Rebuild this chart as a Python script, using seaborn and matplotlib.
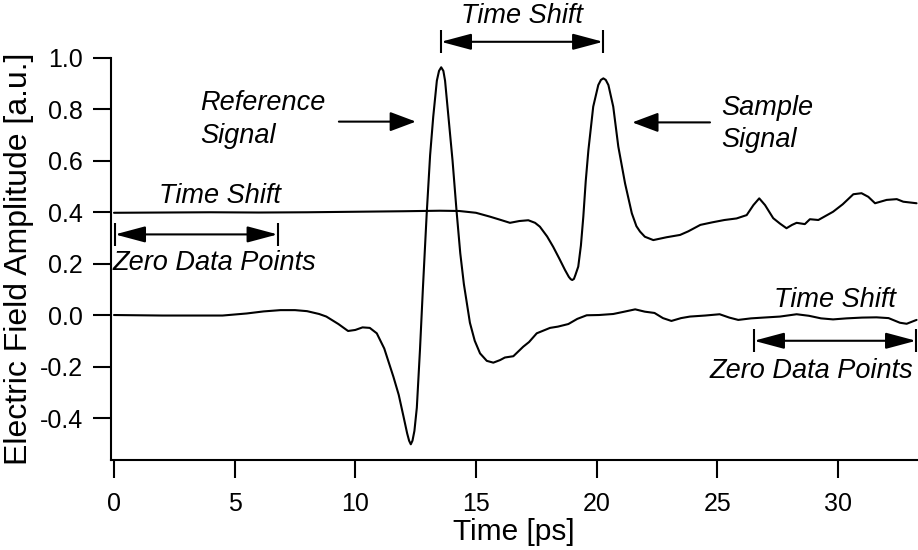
import matplotlib
matplotlib.use("Agg")
import matplotlib.pyplot as plt
import seaborn as sns
import pandas as pd

# ---------------- data ----------------
ref_time = [0.0, 1.0, 2.0, 3.0, 4.5, 5.5, 6.2, 6.9, 7.5, 8.0, 8.5, 8.8, 9.3, 9.7, 10.0,
            10.3, 10.6, 10.89, 11.2, 11.58, 11.8, 12.0, 12.15, 12.23, 12.3, 12.37, 12.45,
            12.55, 12.68, 12.8, 12.96, 13.1, 13.23, 13.38, 13.47, 13.56, 13.65, 13.72, 13.86,
            14.03, 14.2, 14.35, 14.5, 14.75, 14.95, 15.17, 15.45, 15.72, 16.0, 16.2, 16.55,
            16.96, 17.2, 17.52, 18.07, 18.4, 18.83, 19.2, 19.59, 20.1, 20.69, 21.1, 21.6, 22.0,
            22.4, 22.75, 23.1, 23.5, 23.87, 24.5, 25.1, 25.5, 25.87, 26.4, 26.9, 27.6, 28.29,
            28.8, 29.3, 29.8, 30.36, 31.0, 31.6, 32.1, 32.57, 32.85, 33.26]
ref_amp = [0.0, -0.001, -0.002, -0.002, -0.002, 0.006, 0.014, 0.019, 0.019, 0.015, 0.004,
           -0.006, -0.035, -0.062, -0.058, -0.048, -0.05, -0.071, -0.13, -0.24, -0.31, -0.395,
           -0.46, -0.488, -0.502, -0.488, -0.45, -0.36, -0.136, 0.1, 0.395, 0.62, 0.77, 0.91,
           0.948, 0.962, 0.948, 0.91, 0.77, 0.6, 0.40, 0.24, 0.12, -0.03, -0.10, -0.149,
           -0.178, -0.185, -0.175, -0.165, -0.16, -0.123, -0.105, -0.071, -0.05, -0.045,
           -0.035, -0.015, -0.001, 0.0, 0.004, 0.012, 0.022, 0.013, 0.008, -0.012, -0.023,
           -0.012, -0.006, -0.002, 0.003, -0.01, -0.019, -0.013, -0.01, -0.006, 0.003, -0.003,
           -0.013, -0.017, -0.013, -0.01, -0.009, -0.012, -0.03, -0.034, -0.019]

sam_time = [0.0, 2.0, 4.0, 6.0, 8.0, 10.0, 12.0, 13.5, 14.3, 15.0, 15.58, 16.0, 16.41, 16.8,
            17.17, 17.45, 17.65, 17.95, 18.2, 18.45, 18.69, 18.85, 18.93, 18.99, 19.06, 19.12,
            19.24, 19.35, 19.45, 19.55, 19.66, 19.86, 20.07, 20.18, 20.28, 20.38, 20.49, 20.69,
            20.9, 21.18, 21.46, 21.65, 21.8, 22.0, 22.35, 22.9, 23.46, 23.8, 24.3, 24.8, 25.3,
            25.8, 26.22, 26.5, 26.74, 26.98, 27.32, 27.6, 27.87, 28.1, 28.29, 28.63, 28.84,
            29.19, 29.8, 30.2, 30.64, 30.98, 31.26, 31.54, 32.02, 32.44, 32.71, 33.26]
sam_amp = [0.397, 0.398, 0.399, 0.398, 0.399, 0.401, 0.403, 0.405, 0.404, 0.397, 0.382, 0.370,
           0.358, 0.365, 0.368, 0.358, 0.343, 0.305, 0.265, 0.22, 0.175, 0.148, 0.139, 0.136,
           0.14, 0.155, 0.188, 0.27, 0.382, 0.52, 0.64, 0.809, 0.893, 0.913, 0.919, 0.913,
           0.893, 0.809, 0.654, 0.511, 0.395, 0.345, 0.324, 0.304, 0.291, 0.302, 0.311, 0.325,
           0.35, 0.36, 0.369, 0.375, 0.388, 0.427, 0.453, 0.427, 0.376, 0.355, 0.337, 0.35,
           0.358, 0.353, 0.372, 0.369, 0.401, 0.43, 0.469, 0.473, 0.459, 0.434, 0.447, 0.45,
           0.44, 0.434]

x_ticks = [0, 5, 10, 15, 20, 25, 30]
y_ticks = [-0.4, -0.2, 0.0, 0.2, 0.4, 0.6, 0.8, 1.0]
y_tick_labels = ["-0.4", "-0.2", "0.0", "0.2", "0.4", "0.6", "0.8", "1.0"]

# ---------------- style ----------------
sns.set_style("ticks")
plt.rcParams["font.family"] = ["Liberation Sans", "DejaVu Sans"]
plt.rcParams["axes.linewidth"] = 1.5
plt.rcParams["text.color"] = "black"
plt.rcParams["axes.labelcolor"] = "black"

fig = plt.figure(figsize=(9.18, 5.5), dpi=100)
ax = fig.add_axes([110.5 / 918, 90 / 550, (918 - 110.5) / 918, (460 - 57.5) / 550])

ref_df = pd.DataFrame({"t": ref_time, "E": ref_amp})
sam_df = pd.DataFrame({"t": sam_time, "E": sam_amp})
sns.lineplot(data=ref_df, x="t", y="E", ax=ax, color="black", linewidth=1.5,
             estimator=None, sort=False)
sns.lineplot(data=sam_df, x="t", y="E", ax=ax, color="black", linewidth=1.5,
             estimator=None, sort=False)
for ln in ax.lines:
    ln.set_solid_joinstyle("round")

ax.set_xlim(-0.145, 33.32)
ax.set_ylim(-0.563, 1.0)
ax.set_xticks(x_ticks)
ax.set_yticks(y_ticks)
ax.set_yticklabels(y_tick_labels)
ax.tick_params(axis="both", direction="out", length=12.8, width=1.5,
               labelsize=18, colors="black")
ax.tick_params(axis="x", pad=10)
ax.tick_params(axis="y", pad=7)
for s in ["top", "right"]:
    ax.spines[s].set_visible(False)
for s in ["left", "bottom"]:
    ax.spines[s].set_color("black")
    ax.spines[s].set_linewidth(1.5)

ax.set_xlabel("Time [ps]", fontsize=21.5, color="black")
ax.set_ylabel("Electric Field Amplitude [a.u.]", fontsize=23, color="black")
ax.xaxis.set_label_coords(0.5, -0.145)
ax.yaxis.set_label_coords(-0.095, 0.5)

# ---------------- annotations ----------------
afs = 19.5
ital = dict(fontsize=afs, style="italic", color="black", clip_on=False)


def double_arrow(x0, x1, y, bar_half):
    ax.annotate("", xy=(x1, y), xytext=(x0, y), annotation_clip=False,
                arrowprops=dict(arrowstyle="<|-|>,head_length=1.87,head_width=0.5",
                                mutation_scale=10, color="black", lw=1.5,
                                shrinkA=0, shrinkB=0))
    for xx in (x0, x1):
        ax.plot([xx, xx], [y - bar_half, y + bar_half], color="black", lw=1.5,
                clip_on=False, solid_capstyle="butt")


def single_arrow(x_from, x_to, y):
    ax.annotate("", xy=(x_to, y), xytext=(x_from, y), annotation_clip=False,
                arrowprops=dict(arrowstyle="-|>,head_length=1.6,head_width=0.6",
                                mutation_scale=10, color="black", lw=1.5,
                                shrinkA=0, shrinkB=0))


# top time shift
ax.text(16.9, 1.134, "Time Shift", ha="center", va="baseline", **ital)
double_arrow(13.55, 20.27, 1.061, 0.044)

# left zero data points
ax.text(4.38, 0.434, "Time Shift", ha="center", va="baseline", **ital)
double_arrow(0.04, 6.78, 0.313, 0.044)
ax.text(4.18, 0.175, "Zero Data Points", ha="center", va="baseline", **ital)

# right zero data points
ax.text(29.88, 0.030, "Time Shift", ha="center", va="baseline", **ital)
double_arrow(26.52, 33.24, -0.10, 0.044)
ax.text(28.91, -0.246, "Zero Data Points", ha="center", va="baseline", **ital)

# reference signal
ax.text(3.56, 0.796, "Reference", ha="left", va="baseline", **ital)
ax.text(3.56, 0.669, "Signal", ha="left", va="baseline", **ital)
single_arrow(9.32, 12.51, 0.751)

# sample signal
ax.text(25.18, 0.777, "Sample", ha="left", va="baseline", **ital)
ax.text(25.18, 0.654, "Signal", ha="left", va="baseline", **ital)
single_arrow(24.7, 21.48, 0.748)

fig.savefig("out.png", dpi=100)
